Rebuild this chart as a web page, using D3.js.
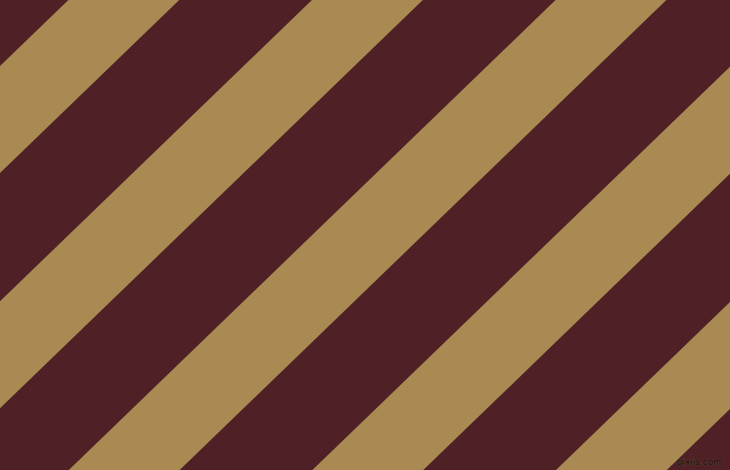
<!DOCTYPE html>
<html>
<head>
<meta charset="utf-8">
<script src="https://cdn.jsdelivr.net/npm/d3@7"></script>
<style>
html,body{margin:0;padding:0;background:#4F2126;overflow:hidden;}
svg{display:block;}
</style>
</head>
<body>
<svg id="chart" width="730" height="470"></svg>
<script>
// stripe indices (gold bands laid over the dark ground)
const stripeIndex = [-1, 0, 1, 2, 3, 4, 5];
// band kinds
const bandKinds = ["dark", "gold"];
// watermark text
const watermark = ["pixiis.com"];

const W = 730, H = 470;
const colors = { dark: "#4F2126", gold: "#A98A52" };
const angle = 46;          // rotation of the band normal (stripes run at 44°)
const period = 169.2;      // perpendicular repeat
const goldWidth = 77;      // perpendicular gold band width
const offset = 47.5;       // first band start along normal

const svg = d3.select("#chart");

const u = d3.scaleLinear().domain([0, 1]).range([offset, offset + period]);
const color = d3.scaleOrdinal().domain(bandKinds).range([colors.dark, colors.gold]);

svg.append("rect")
  .attr("width", W).attr("height", H)
  .attr("fill", color("dark"));

const g = svg.append("g").attr("transform", `rotate(${angle})`);

g.selectAll("rect.band")
  .data(stripeIndex)
  .join("rect")
  .attr("class", "band")
  .attr("x", d => u(d))
  .attr("y", -1200)
  .attr("width", goldWidth)
  .attr("height", 2400)
  .attr("fill", color("gold"));

svg.selectAll("text.wm")
  .data(watermark)
  .join("text")
  .attr("class", "wm")
  .attr("x", 722)
  .attr("y", 465)
  .attr("text-anchor", "end")
  .attr("font-family", "DejaVu Sans, sans-serif")
  .attr("font-size", 9)
  .attr("fill", "#140808")
  .attr("stroke", "#6e5238")
  .attr("stroke-width", 0.6)
  .attr("paint-order", "stroke")
  .text(d => d);
</script>
</body>
</html>
